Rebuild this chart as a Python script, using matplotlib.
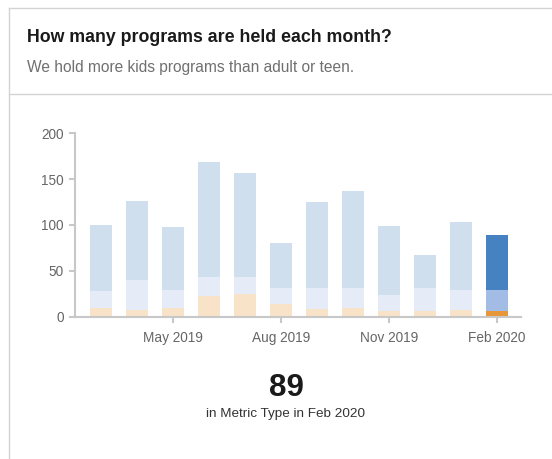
import matplotlib
matplotlib.use("Agg")
import matplotlib.pyplot as plt
from matplotlib.lines import Line2D

plt.rcParams['font.family'] = ['Liberation Sans', 'DejaVu Sans']

# Programs per month, split by audience (stacked from the bottom)
meses = ["Mar 2019", "Apr 2019", "May 2019", "Jun 2019", "Jul 2019", "Aug 2019",
         "Sep 2019", "Oct 2019", "Nov 2019", "Dec 2019", "Jan 2020", "Feb 2020"]
adultos = [10, 7, 10, 23, 25, 14, 8, 10, 6, 6, 7, 6]
jovenes = [18, 33, 19, 20, 18, 17, 23, 21, 18, 25, 22, 23]
ninos = [72, 86, 69, 126, 114, 49, 94, 106, 75, 36, 74, 60]
etiquetas_x = ["May 2019", "Aug 2019", "Nov 2019", "Feb 2020"]

W, H = 552, 459
fig = plt.figure(figsize=(W / 100, H / 100), dpi=100)

# --- Marco de la tarjeta ---
def linea_px(x0, y0, x1, y1):
    fig.add_artist(Line2D([x0 / W, x1 / W], [1 - y0 / H, 1 - y1 / H],
                          color="#d3d3d3", lw=1.0, transform=fig.transFigure))

linea_px(9, 8, W, 8)
linea_px(9, 8, 9, H)
linea_px(9, 94, W, 94)

fig.text(27 / W, 1 - 37.5 / H, "How many programs are held each month?",
         fontsize=12.8, fontweight="bold", color="#1a1a1a", va="center")
fig.text(27 / W, 1 - 67.5 / H, "We hold more kids programs than adult or teen.",
         fontsize=11.2, color="#707070", va="center")

# --- Grafico de barras apiladas ---
ax = fig.add_axes([75 / W, 1 - 316.7 / H, (521 - 75) / W, (316.7 - 133.3) / H])

n = len(meses)
x = list(range(n))
ultimo = n - 1
col_ninos = ["#d0dfee"] * ultimo + ["#4682c1"]
col_jov = ["#e5ebf7"] * ultimo + ["#a3bce6"]
col_adul = ["#f8e2c8"] * ultimo + ["#e8963a"]

base2 = [a + j for a, j in zip(adultos, jovenes)]
ancho = 0.61
ax.bar(x, adultos, width=ancho, color=col_adul, zorder=2)
ax.bar(x, jovenes, width=ancho, bottom=adultos, color=col_jov, zorder=2)
ax.bar(x, ninos, width=ancho, bottom=base2, color=col_ninos, zorder=2)

ax.set_xlim(-0.722, 11.667)
ax.set_ylim(0, 200)

ax.set_xticks([meses.index(m) for m in etiquetas_x])
ax.set_xticklabels(etiquetas_x)
ax.set_yticks([0, 50, 100, 150, 200])

for lado in ["top", "right"]:
    ax.spines[lado].set_visible(False)
for lado in ["left", "bottom"]:
    ax.spines[lado].set_color("#c8c8c8")
    ax.spines[lado].set_linewidth(1.5)
ax.spines["bottom"].set_zorder(3)

ax.tick_params(axis="both", colors="#c8c8c8", labelcolor="#666666",
               labelsize=9.8, length=4, width=1.5)
ax.tick_params(axis="x", pad=6.5)
ax.tick_params(axis="y", pad=4)

# --- Valor destacado ---
total = adultos[ultimo] + jovenes[ultimo] + ninos[ultimo]
fig.text(286 / W, 1 - 387.5 / H, str(total), fontsize=22.5, fontweight="bold",
         color="#1a1a1a", ha="center", va="center")
fig.text(285 / W, 1 - 413.5 / H, "in Metric Type in " + meses[ultimo],
         fontsize=9.7, color="#333333", ha="center", va="center")

fig.savefig("out.png", dpi=100)
